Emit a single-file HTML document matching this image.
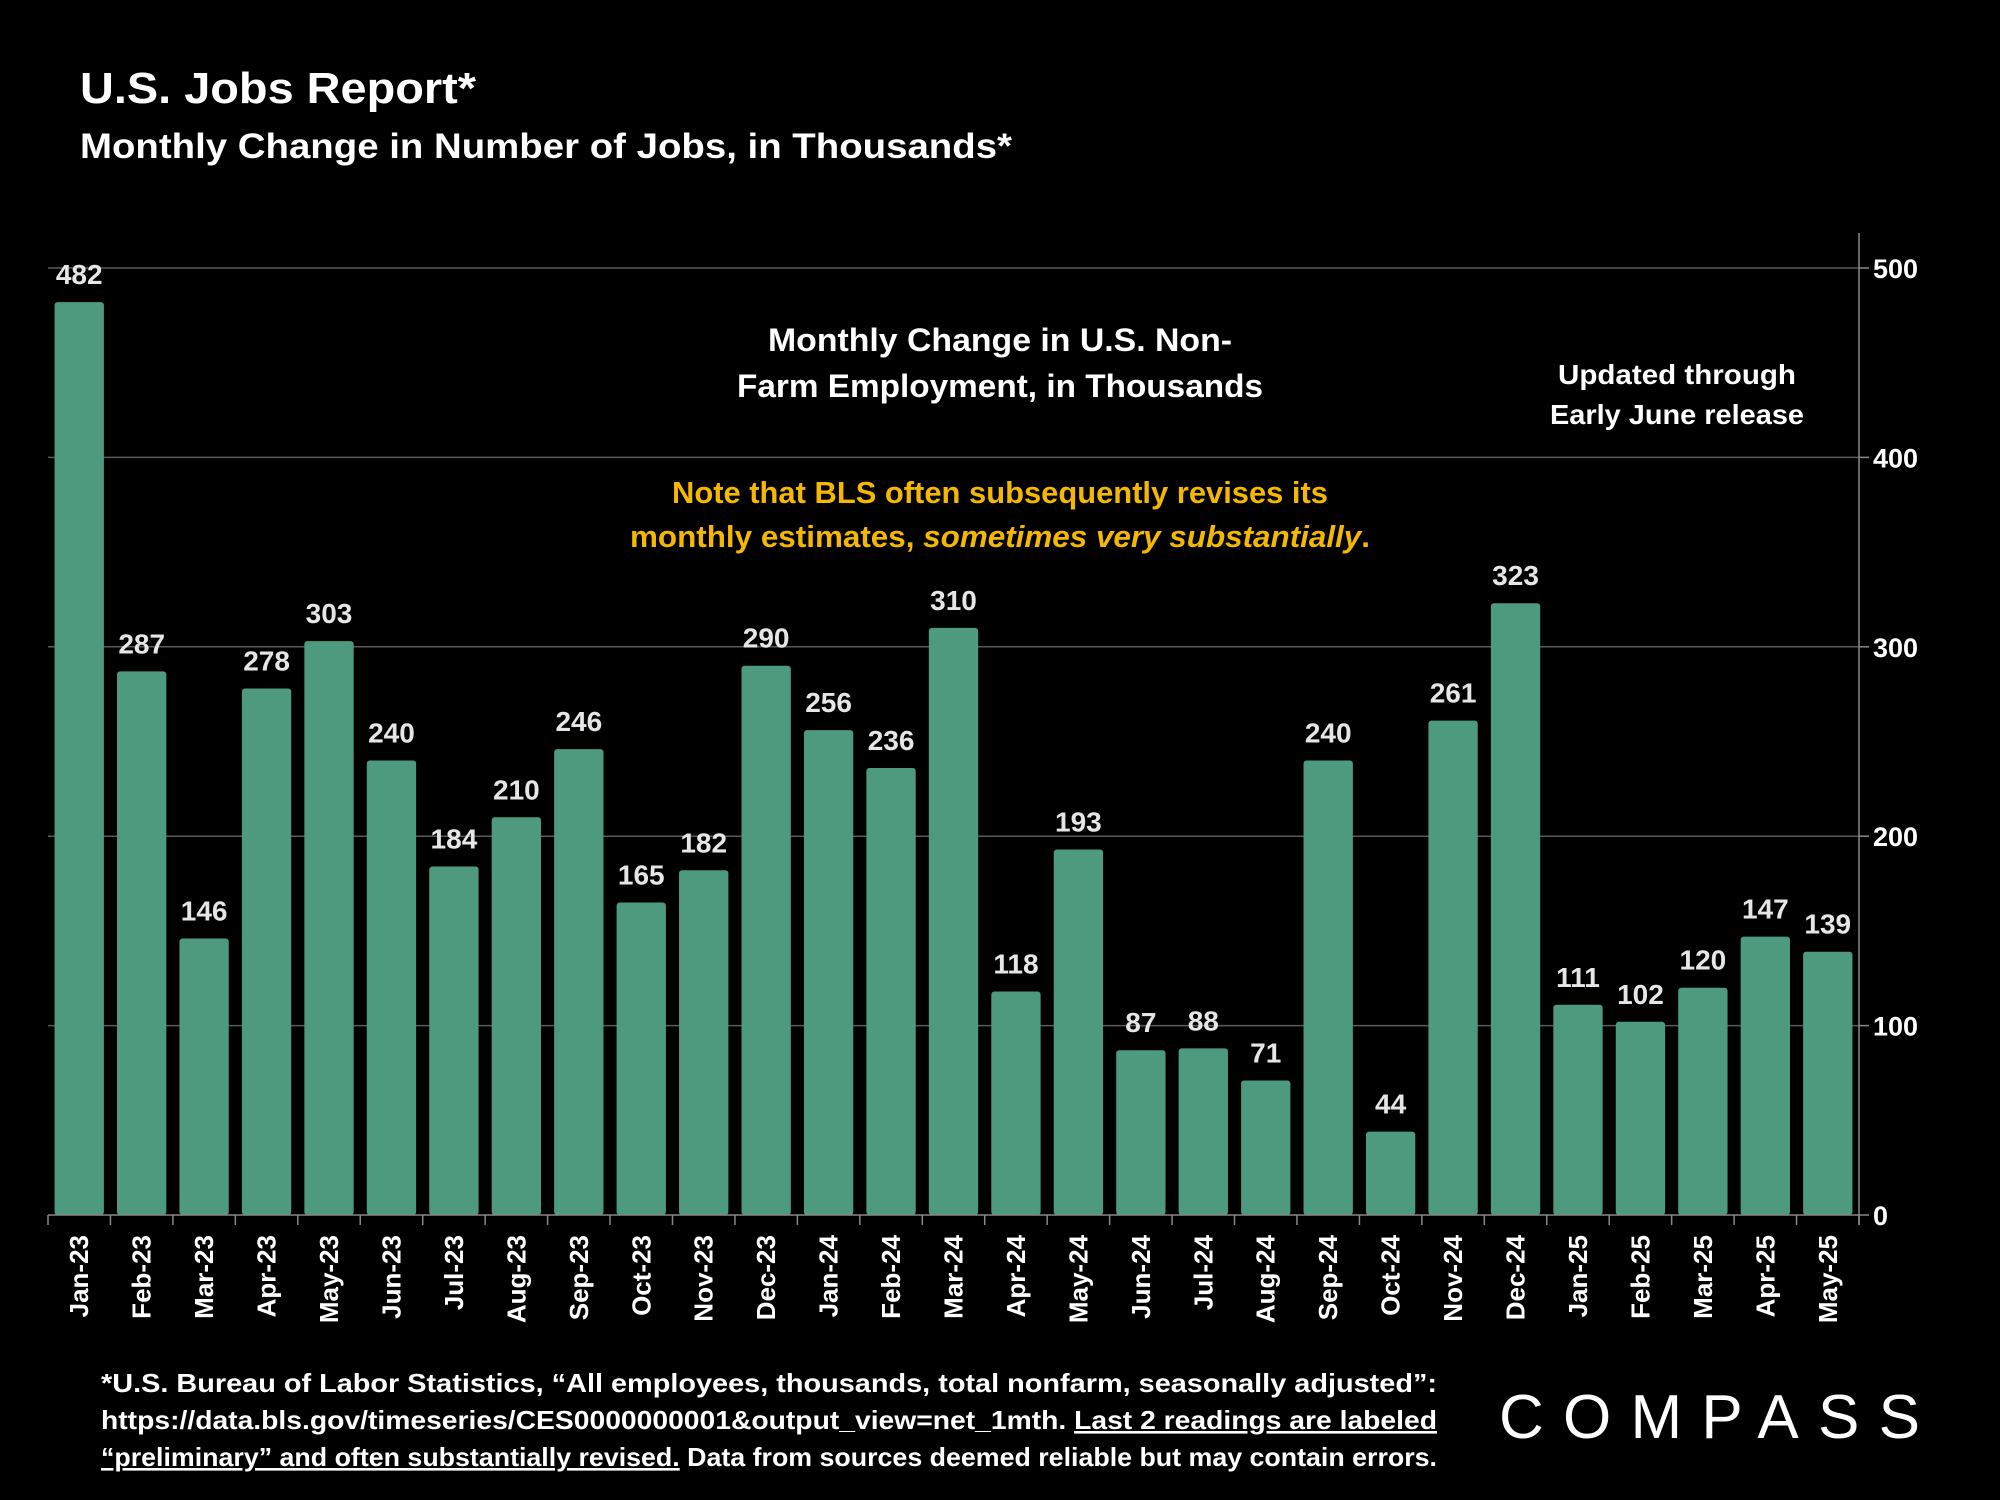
<!DOCTYPE html>
<html><head><meta charset="utf-8"><style>
html,body{margin:0;padding:0;background:#000;width:2000px;height:1500px;overflow:hidden}
svg{display:block}
text{font-family:"Liberation Sans",sans-serif}
</style></head><body>
<svg id="chart" width="2000" height="1500" xmlns="http://www.w3.org/2000/svg">
<rect width="2000" height="1500" fill="#000"/>
<text x="80" y="103" font-size="44" font-weight="bold" fill="#fff" textLength="396" lengthAdjust="spacingAndGlyphs">U.S. Jobs Report*</text>
<text x="80" y="158" font-size="35" font-weight="bold" fill="#fff" textLength="932" lengthAdjust="spacingAndGlyphs">Monthly Change in Number of Jobs, in Thousands*</text>
<g id="grid"></g>
<g id="bars"></g>
<g id="axes"></g>
<text x="1000" y="351" font-size="32" font-weight="bold" fill="#fff" text-anchor="middle" textLength="464" lengthAdjust="spacingAndGlyphs">Monthly Change in U.S. Non-</text>
<text x="1000" y="397" font-size="32" font-weight="bold" fill="#fff" text-anchor="middle" textLength="526" lengthAdjust="spacingAndGlyphs">Farm Employment, in Thousands</text>
<text x="1000" y="503" font-size="31" font-weight="bold" fill="#f5b800" text-anchor="middle" textLength="656" lengthAdjust="spacingAndGlyphs">Note that BLS often subsequently revises its</text>
<text x="1000" y="547" font-size="31" font-weight="bold" fill="#f5b800" text-anchor="middle" textLength="740" lengthAdjust="spacingAndGlyphs">monthly estimates, <tspan font-style="italic">sometimes very substantially</tspan>.</text>
<text x="1677" y="384" font-size="28" font-weight="bold" fill="#fff" text-anchor="middle" textLength="238" lengthAdjust="spacingAndGlyphs">Updated through</text>
<text x="1677" y="424" font-size="28" font-weight="bold" fill="#fff" text-anchor="middle" textLength="254" lengthAdjust="spacingAndGlyphs">Early June  release</text>
<text x="101" y="1392" font-size="26" font-weight="bold" fill="#fff" textLength="1336" lengthAdjust="spacingAndGlyphs">*U.S. Bureau of Labor Statistics, “All employees, thousands, total nonfarm, seasonally adjusted”:</text>
<text x="101" y="1429" font-size="26" font-weight="bold" fill="#fff" textLength="1336" lengthAdjust="spacingAndGlyphs">https://data.bls.gov/timeseries/CES0000000001&amp;output_view=net_1mth. <tspan text-decoration="underline">Last 2 readings are labeled</tspan></text>
<text x="101" y="1466" font-size="26" font-weight="bold" fill="#fff" textLength="1336" lengthAdjust="spacingAndGlyphs"><tspan text-decoration="underline">“preliminary” and often substantially revised.</tspan> Data from sources deemed reliable but may contain errors.</text>
<text x="1499" y="1438" font-size="62" fill="#fff" textLength="421" lengthAdjust="spacing">COMPASS</text>
</svg>
<script>
const categories=["Jan-23","Feb-23","Mar-23","Apr-23","May-23","Jun-23","Jul-23","Aug-23","Sep-23","Oct-23","Nov-23","Dec-23","Jan-24","Feb-24","Mar-24","Apr-24","May-24","Jun-24","Jul-24","Aug-24","Sep-24","Oct-24","Nov-24","Dec-24","Jan-25","Feb-25","Mar-25","Apr-25","May-25"];
const values=[482,287,146,278,303,240,184,210,246,165,182,290,256,236,310,118,193,87,88,71,240,44,261,323,111,102,120,147,139];
const yTicks=[0,100,200,300,400,500];
const NS="http://www.w3.org/2000/svg";
const X0=48,X1=1859,Y0=1215,YMAX=500,Y500=268;
const band=(X1-X0)/categories.length;
function y(v){return Y0-(v/YMAX)*(Y0-Y500);}
function x(i){return X0+i*band;}
function mk(tag,attrs,parent){const e=document.createElementNS(NS,tag);for(const k in attrs)e.setAttribute(k,attrs[k]);parent.appendChild(e);return e;}
const grid=document.getElementById('grid'),bars=document.getElementById('bars'),axes=document.getElementById('axes');
yTicks.forEach(t=>{
  if(t>0){const l=mk('line',{x1:X0,x2:X1,y1:y(t),y2:y(t),stroke:'#5a5a5a','stroke-width':1.5},grid);
  
  }
  const tx=mk('text',{x:1873,y:y(t)+10,'font-size':27,'font-weight':'bold',fill:'#fff'},axes);
  tx.textContent=t;
  
  
  const tk=mk('line',{x1:X1,x2:X1+10,y1:y(t),y2:y(t),stroke:'#888','stroke-width':1.5},axes);
  
  
});
const ax=mk('line',{x1:X1,x2:X1,y1:233,y2:Y0+10,stroke:'#888','stroke-width':1.5},axes);


const bx=mk('line',{x1:X0,x2:X1,y1:Y0,y2:Y0,stroke:'#888','stroke-width':1.5},axes);


const bw=band*0.79;
categories.forEach((c,i)=>{
  const v=values[i];
  const r=mk('rect',{x:x(i)+(band-bw)/2,y:y(v),width:bw,height:Y0-y(v),fill:'#4d9a7f',rx:3},bars);
  
  
  const lb=mk('text',{x:x(i)+band/2,y:y(v)-18,'font-size':28,'font-weight':'bold',fill:'#e6e6e6','text-anchor':'middle'},bars);
  lb.textContent=v;
  
  
  const tk=mk('line',{x1:x(i),x2:x(i),y1:Y0,y2:Y0+10,stroke:'#888','stroke-width':1.5},axes);
  
  
  const cx=x(i)+band/2+9;
  const cl=mk('text',{x:cx,y:1235,'font-size':26,'font-weight':'bold',fill:'#fff','text-anchor':'end',transform:`rotate(-90 ${cx} 1235)`},axes);
  cl.textContent=c;
  
  
});
const lt=mk('line',{x1:X1,x2:X1,y1:Y0,y2:Y0+10,stroke:'#888','stroke-width':1.5},axes);


</script>
</body></html>
